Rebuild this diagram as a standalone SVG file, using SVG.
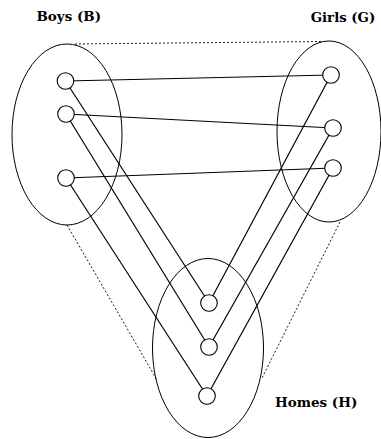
<svg xmlns="http://www.w3.org/2000/svg" width="381" height="439" viewBox="0 0 381 439">
<style>
.set{fill:none;stroke:#000;stroke-width:1}
.node{fill:#fff;stroke:#000;stroke-width:1.1}
.edge{stroke:#000;stroke-width:1.2;fill:none}
.dash{stroke:#000;stroke-width:0.9;stroke-dasharray:2 2;fill:none}
.lbl{font-family:"DejaVu Serif","Liberation Serif",serif;font-weight:bold;font-size:12.8px;fill:#000}
</style>
<rect width="381" height="439" fill="#fff"/>
<g id="sets">
<ellipse id="setB" class="set" cx="67" cy="134.5" rx="55" ry="90.5"/>
<ellipse id="setG" class="set" cx="329" cy="131.5" rx="52" ry="90.5"/>
<ellipse id="setH" class="set" cx="208" cy="348" rx="55.5" ry="89.5"/>
</g>
<g id="connectors">
<line class="dash" x1="75" y1="44" x2="323" y2="41.5"/>
<line class="dash" x1="67" y1="225" x2="157" y2="380"/>
<line class="dash" x1="340" y1="222" x2="262" y2="378"/>
<line class="edge" x1="65.5" y1="81" x2="331" y2="75"/>
<line class="edge" x1="66" y1="114" x2="333" y2="128"/>
<line class="edge" x1="66" y1="178" x2="333" y2="168"/>
<line class="edge" x1="65.5" y1="81" x2="209" y2="303"/>
<line class="edge" x1="66" y1="114" x2="209" y2="347"/>
<line class="edge" x1="66" y1="178" x2="207" y2="396"/>
<line class="edge" x1="331" y1="75" x2="209" y2="303"/>
<line class="edge" x1="333" y1="128" x2="209" y2="347"/>
<line class="edge" x1="333" y1="168" x2="207" y2="396"/>
</g>
<g id="B1"><circle class="node" cx="65.5" cy="81" r="8.3"/></g>
<g id="B2"><circle class="node" cx="66" cy="114" r="8.3"/></g>
<g id="B3"><circle class="node" cx="66" cy="178" r="8.3"/></g>
<g id="G1"><circle class="node" cx="331" cy="75" r="8.3"/></g>
<g id="G2"><circle class="node" cx="333" cy="128" r="8.3"/></g>
<g id="G3"><circle class="node" cx="333" cy="168" r="8.3"/></g>
<g id="H1"><circle class="node" cx="209" cy="303" r="8.3"/></g>
<g id="H2"><circle class="node" cx="209" cy="347" r="8.3"/></g>
<g id="H3"><circle class="node" cx="207" cy="396" r="8.3"/></g>
<g id="labels">
<text class="lbl" x="36.5" y="21" textLength="64.5" lengthAdjust="spacingAndGlyphs">Boys (B)</text>
<text class="lbl" x="310.7" y="21.7" textLength="64.6" lengthAdjust="spacingAndGlyphs">Girls (G)</text>
<text class="lbl" x="275" y="406.7" textLength="82.3" lengthAdjust="spacingAndGlyphs">Homes (H)</text>
</g>
</svg>
